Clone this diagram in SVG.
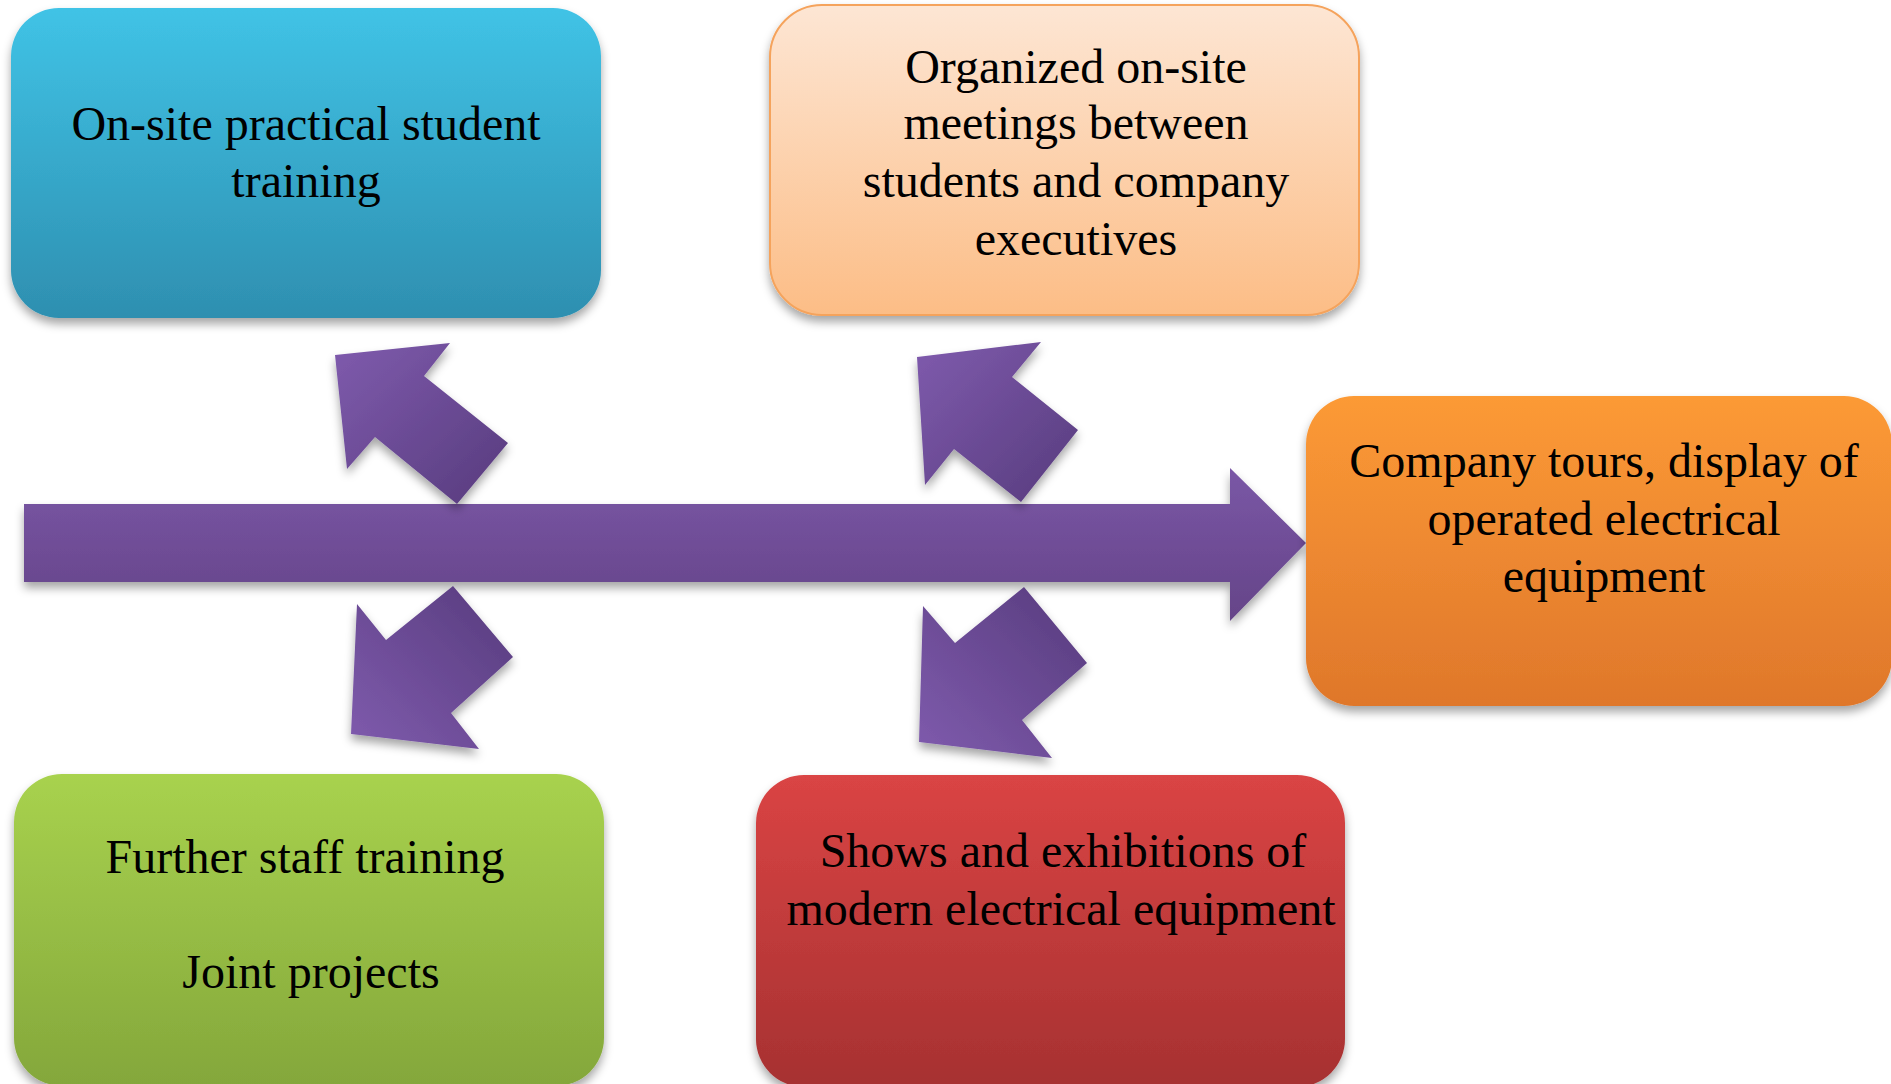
<svg xmlns="http://www.w3.org/2000/svg" width="1891" height="1084" viewBox="0 0 1891 1084">
<defs>
<linearGradient id="gBlue" x1="0" y1="0" x2="0" y2="1"><stop offset="0" stop-color="#40c3e6"/><stop offset="1" stop-color="#2e8fb0"/></linearGradient>
<linearGradient id="gPeach" x1="0" y1="0" x2="0" y2="1"><stop offset="0" stop-color="#fde6d4"/><stop offset="1" stop-color="#fcbd86"/></linearGradient>
<linearGradient id="gOrange" x1="0" y1="0" x2="0" y2="1"><stop offset="0" stop-color="#fc9a36"/><stop offset="1" stop-color="#df772b"/></linearGradient>
<linearGradient id="gGreen" x1="0" y1="0" x2="0" y2="1"><stop offset="0" stop-color="#a8d24e"/><stop offset="1" stop-color="#84a73b"/></linearGradient>
<linearGradient id="gRed" x1="0" y1="0" x2="0" y2="1"><stop offset="0" stop-color="#da4444"/><stop offset="1" stop-color="#a63131"/></linearGradient>
<linearGradient id="gShaft" x1="0" y1="0" x2="0" y2="1"><stop offset="0" stop-color="#7a57a6"/><stop offset="1" stop-color="#654488"/></linearGradient>
<linearGradient id="gUp" x1="0" y1="0" x2="1" y2="1"><stop offset="0" stop-color="#7f5bad"/><stop offset="1" stop-color="#573b7d"/></linearGradient>
<linearGradient id="gDown" x1="0" y1="1" x2="1" y2="0"><stop offset="0" stop-color="#7f5bad"/><stop offset="1" stop-color="#573b7d"/></linearGradient>
<filter id="sh" x="-10%" y="-10%" width="120%" height="130%"><feDropShadow dx="0" dy="6" stdDeviation="5" flood-color="#000" flood-opacity="0.35"/></filter>
</defs>
<style>
.lbl{font-family:"Liberation Serif","Times New Roman",serif;font-size:48px;fill:#000;text-anchor:middle}
.box{filter:url(#sh)}
.arr{filter:url(#sh)}
</style>
<rect width="1891" height="1084" fill="#fff"/>
<g id="connectors">
<polygon class="arr" fill="url(#gShaft)" points="24,504 1230,504 1230,468 1306,543 1230,621 1230,582 24,582"/>
<polygon class="arr" fill="url(#gUp)" points="335,355 450,343 424,376 508,443 457,504 375,437 347,469"/>
<polygon class="arr" fill="url(#gUp)" points="917,357 1041,342 1012,377 1078,430 1021,502 954,449 925,485"/>
<polygon class="arr" fill="url(#gDown)" points="453,586 513,657 451,713 479,749 351,734 357,604 386,640"/>
<polygon class="arr" fill="url(#gDown)" points="1024,587 1087,663 1022,720 1052,758 919,742 923,606 955,643"/>
</g>
<g id="node-onsite-training">
<rect class="box" x="11" y="8" width="590" height="310" rx="48" fill="url(#gBlue)"/>
<text class="lbl" x="306" y="140">On-site practical student</text>
<text class="lbl" x="306" y="197">training</text>
</g>
<g id="node-meetings">
<rect class="box" x="770" y="5" width="589" height="310" rx="52" fill="url(#gPeach)" stroke="#f5a35c" stroke-width="2"/>
<text class="lbl" x="1076" y="83">Organized on-site</text>
<text class="lbl" x="1076" y="139">meetings between</text>
<text class="lbl" x="1076" y="197">students and company</text>
<text class="lbl" x="1076" y="255">executives</text>
</g>
<g id="node-company-tours">
<rect class="box" x="1306" y="396" width="586" height="310" rx="48" fill="url(#gOrange)"/>
<text class="lbl" x="1604" y="477">Company tours, display of</text>
<text class="lbl" x="1604" y="535">operated electrical</text>
<text class="lbl" x="1604" y="592">equipment</text>
</g>
<g id="node-staff-training">
<rect class="box" x="14" y="774" width="590" height="312" rx="48" fill="url(#gGreen)"/>
<text class="lbl" x="305" y="873">Further staff training</text>
<text class="lbl" x="311" y="988">Joint projects</text>
</g>
<g id="node-exhibitions">
<rect class="box" x="756" y="775" width="589" height="312" rx="48" fill="url(#gRed)"/>
<text class="lbl" x="1063" y="867">Shows and exhibitions of</text>
<text class="lbl" x="1061" y="925">modern electrical equipment</text>
</g>
</svg>
